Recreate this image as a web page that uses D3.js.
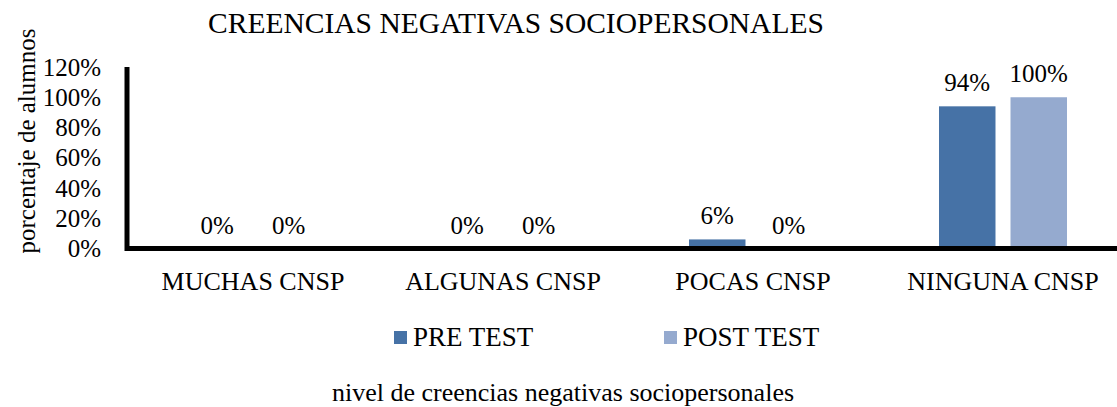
<!DOCTYPE html>
<html>
<head>
<meta charset="utf-8">
<script src="https://cdn.jsdelivr.net/npm/d3@7"></script>
<style>
  body { margin: 0; background: #fff; }
  svg { display: block; font-family: "Liberation Serif", "Times New Roman", serif; }
</style>
</head>
<body>
<svg id="chart" width="1117" height="407"></svg>
<script>
// data
var categories = ['MUCHAS CNSP', 'ALGUNAS CNSP', 'POCAS CNSP', 'NINGUNA CNSP'];
var series = ['PRE TEST', 'POST TEST'];
var preTest = [0, 0, 0.06, 0.94];
var postTest = [0, 0, 0, 1.00];
var yTicks = [0, 0.2, 0.4, 0.6, 0.8, 1.0, 1.2];
var colors = ['#4672a6', '#95aacf'];

var svg = d3.select('#chart'),
    width = 1117, height = 407;

var x = d3.scaleBand()
    .domain(categories)
    .range([128, 1128]);

var x1 = d3.scaleBand()
    .domain(series)
    .range([-64, 64])
    .paddingInner(0.21);

var y = d3.scaleLinear()
    .domain([0, 1.2])
    .range([248.5, 67]);

var fmt = d3.format('.0%');

var data = [];
categories.forEach(function(c, i) {
    data.push({cat: c, s: series[0], v: preTest[i]});
    data.push({cat: c, s: series[1], v: postTest[i]});
});

// title
svg.append('text')
    .attr('x', 516).attr('y', 33)
    .attr('text-anchor', 'middle')
    .attr('font-size', '29.5px')
    .text('CREENCIAS NEGATIVAS SOCIOPERSONALES');

// bars
svg.selectAll('rect.bar')
    .data(data)
    .enter()
    .append('rect')
    .attr('class', 'bar')
    .attr('x', function(d) { return x(d.cat) + x.bandwidth() / 2 + x1(d.s); })
    .attr('y', function(d) { return y(d.v); })
    .attr('width', x1.bandwidth())
    .attr('height', function(d) { return y(0) - y(d.v); })
    .attr('fill', function(d) { return colors[series.indexOf(d.s)]; });

// value labels
svg.selectAll('text.val')
    .data(data)
    .enter()
    .append('text')
    .attr('class', 'val')
    .attr('x', function(d) { return x(d.cat) + x.bandwidth() / 2 + x1(d.s) + x1.bandwidth() / 2; })
    .attr('y', function(d) { return y(d.v) - 15; })
    .attr('text-anchor', 'middle')
    .attr('font-size', '25px')
    .text(function(d) { return fmt(d.v); });

// y axis (labels only, thick line drawn separately)
var yAxis = svg.append('g')
    .attr('transform', 'translate(101,0)')
    .call(d3.axisLeft(y).tickValues(yTicks).tickFormat(fmt).tickSize(0).tickPadding(0));
yAxis.select('.domain').remove();
yAxis.selectAll('text')
    .attr('font-family', '"Liberation Serif", "Times New Roman", serif')
    .attr('font-size', '25px')
    .attr('fill', '#000');

// x axis labels
var xAxis = svg.append('g')
    .attr('transform', 'translate(0,' + 272 + ')')
    .call(d3.axisBottom(x).tickSize(0).tickPadding(0));
xAxis.select('.domain').remove();
xAxis.selectAll('text')
    .attr('font-family', '"Liberation Serif", "Times New Roman", serif')
    .attr('font-size', '26px')
    .attr('fill', '#000');

// axis lines
svg.append('line')
    .attr('x1', 127).attr('x2', 127)
    .attr('y1', 67).attr('y2', 251)
    .attr('stroke', '#000').attr('stroke-width', 5);
svg.append('line')
    .attr('x1', 125).attr('x2', width)
    .attr('y1', y(0)).attr('y2', y(0))
    .attr('stroke', '#000').attr('stroke-width', 5);

// legend
var legendX = [394, 664];
var lg = svg.selectAll('g.legend')
    .data(series)
    .enter()
    .append('g')
    .attr('class', 'legend')
    .attr('transform', function(d, i) { return 'translate(' + legendX[i] + ',331)'; });
lg.append('rect')
    .attr('width', 13).attr('height', 13)
    .attr('fill', function(d, i) { return colors[i]; });
lg.append('text')
    .attr('x', 19).attr('y', 15)
    .attr('font-size', '27px')
    .text(function(d) { return d; });

// axis titles
svg.append('text')
    .attr('x', 332).attr('y', 401)
    .attr('font-size', '26px')
    .text('nivel de creencias negativas sociopersonales');

svg.append('text')
    .attr('transform', 'translate(35,141) rotate(-90)')
    .attr('text-anchor', 'middle')
    .attr('font-size', '25px')
    .text('porcentaje de alumnos');
</script>
</body>
</html>
